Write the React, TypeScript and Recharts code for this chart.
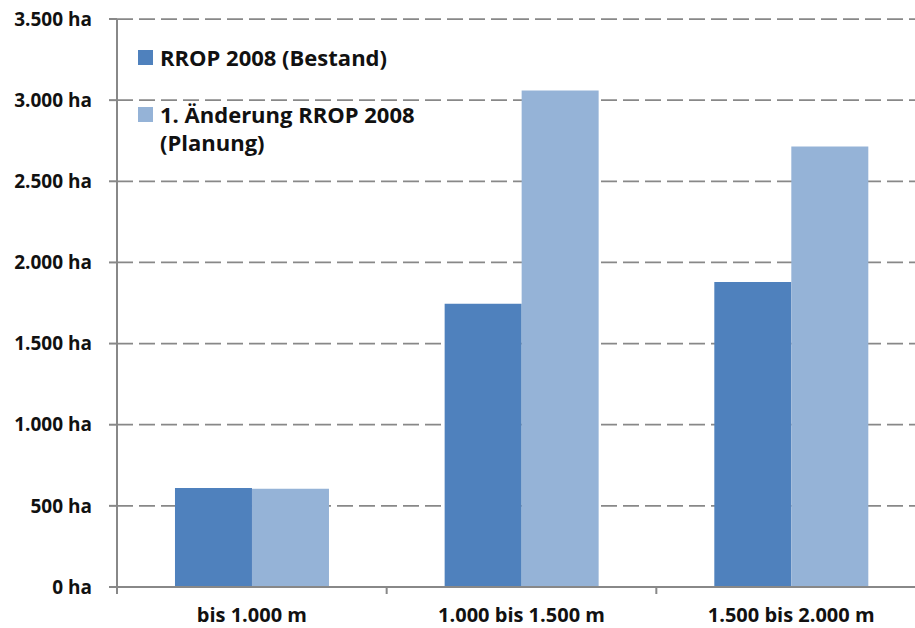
import React from "react";
import { BarChart, Bar, XAxis, YAxis, CartesianGrid, Legend } from "recharts";

const categories = ["bis 1.000 m", "1.000 bis 1.500 m", "1.500 bis 2.000 m"];
const bestand = [610, 1745, 1880];
const planung = [605, 3060, 2715];
const yTicks = [0, 500, 1000, 1500, 2000, 2500, 3000, 3500];

const seriesNames = ["RROP 2008 (Bestand)", "1. Änderung RROP 2008 (Planung)"];
const colors = ["#4F81BD", "#95B3D7"];

const data = categories.map((c, i) => ({ name: c, bestand: bestand[i], planung: planung[i] }));

const FONT = "'Open Sans', Lato, sans-serif";
const AXIS = "#888888";
const TEXT = "#111111";

const fmt = (v: number) => String(v).replace(/\B(?=(\d{3})+(?!\d))/g, ".") + " ha";

function CategoryTick(props: any) {
  const { x, y, payload, index, visibleTicksCount } = props;
  const off = payload?.offset ?? 0;
  const isLast = index === (visibleTicksCount ?? categories.length) - 1;
  return (
    <g>
      <line x1={x - off} x2={x - off} y1={y} y2={y + 7} stroke={AXIS} strokeWidth={2} />
      {isLast && <line x1={x + off} x2={x + off} y1={y} y2={y + 7} stroke={AXIS} strokeWidth={2} />}
      <text x={x} y={y + 35} textAnchor="middle" fontFamily={FONT} fontWeight={700} fontSize={20} fill={TEXT}>
        {payload.value}
      </text>
    </g>
  );
}

function LegendBox() {
  return (
    <div style={{ fontFamily: FONT, fontWeight: 700, fontSize: 22, color: TEXT, lineHeight: "28px" }}>
      <div style={{ display: "flex", alignItems: "flex-start" }}>
        <span style={{ width: 15, height: 15, background: colors[0], marginTop: 7, marginRight: 7, flex: "none" }} />
        <span style={{ whiteSpace: "nowrap" }}>{seriesNames[0]}</span>
      </div>
      <div style={{ display: "flex", alignItems: "flex-start", marginTop: 29 }}>
        <span style={{ width: 15, height: 15, background: colors[1], marginTop: 7, marginRight: 7, flex: "none" }} />
        <span style={{ whiteSpace: "nowrap" }}>
          1. Änderung RROP 2008
          <br />
          (Planung)
        </span>
      </div>
    </div>
  );
}

export default function App() {
  return (
    <div style={{ position: "absolute", left: 0, top: 0, width: 915, height: 628, overflow: "hidden", background: "#fff" }}>
      <BarChart
        width={936}
        height={628}
        data={data}
        margin={{ top: 19, right: 10, left: 0, bottom: 0 }}
        barCategoryGap="21.5%"
        barGap={0}
      >
        <CartesianGrid vertical={false} stroke={AXIS} strokeWidth={1.75} strokeDasharray="16 6" />
        <XAxis
          dataKey="name"
          height={41}
          tickSize={0}
          tickMargin={0}
          tickLine={false}
          axisLine={{ stroke: AXIS, strokeWidth: 2 }}
          tick={<CategoryTick />}
          interval={0}
        />
        <YAxis
          width={117}
          domain={[0, 3500]}
          ticks={yTicks}
          interval={0}
          tickFormatter={fmt}
          tickSize={8}
          tickMargin={17}
          axisLine={{ stroke: AXIS, strokeWidth: 2 }}
          tickLine={{ stroke: AXIS, strokeWidth: 2 }}
          tick={{ fontFamily: FONT, fontWeight: 700, fontSize: 19, fill: TEXT }}
        />
        <Legend
          layout="vertical"
          align="center"
          verticalAlign="middle"
          wrapperStyle={{ left: 138, top: 43, width: 340 }}
          content={() => <LegendBox />}
        />
        <Bar dataKey="bestand" name={seriesNames[0]} fill={colors[0]} isAnimationActive={false} />
        <Bar dataKey="planung" name={seriesNames[1]} fill={colors[1]} isAnimationActive={false} />
      </BarChart>
    </div>
  );
}
